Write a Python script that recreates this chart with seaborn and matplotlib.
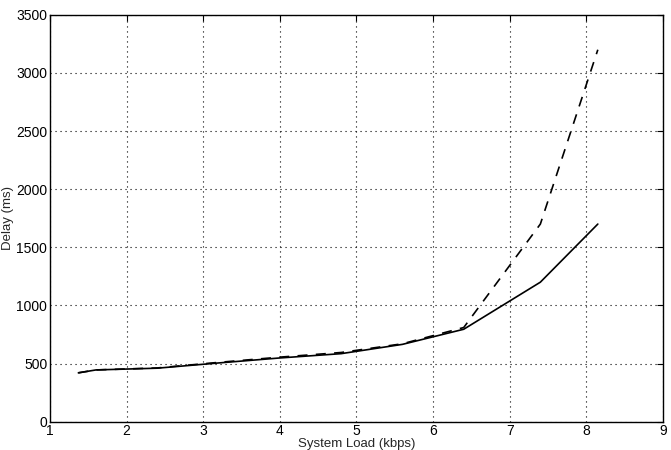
import pandas as pd
import matplotlib
matplotlib.use('Agg')
import matplotlib.pyplot as plt
import seaborn as sns

# 데이터
load = [1.37, 1.6, 2.4, 3.2, 4.0, 4.8, 5.6, 6.4, 7.4, 8.15]
delay_solid = [420, 445, 460, 505, 548, 585, 665, 795, 1200, 1700]
delay_dashed = [420, 445, 462, 510, 555, 595, 670, 810, 1700, 3200]

sns.set_style('white')
plt.rcParams['font.family'] = ['Liberation Sans', 'DejaVu Sans']

fig = plt.figure(figsize=(6.71, 4.5), dpi=100)
ax = fig.add_axes([0.0745, 0.063, 0.9135, 0.904])

sns.lineplot(x=load, y=delay_dashed, ax=ax, color='black', lw=1.2, linestyle=(0, (6, 5)))
sns.lineplot(x=load, y=delay_solid, ax=ax, color='black', lw=1.2)

ax.set_xlim(1, 9)
ax.set_ylim(0, 3500)
ax.set_xticks(range(1, 10))
ax.set_yticks(range(0, 3501, 500))
ax.grid(True, color='black', linestyle=(0, (1, 3.5)), linewidth=0.8)
ax.tick_params(direction='in', top=True, right=True, length=4, labelsize=10, colors='black', pad=2)
for s in ax.spines.values():
    s.set_color('black')
    s.set_linewidth(1.0)

ax.set_xlabel('System Load (kbps)', fontsize=9.5)
ax.set_ylabel('Delay (ms)', fontsize=9.5)
# 라벨 위치 (그림 가장자리에 붙도록)
ax.xaxis.set_label_coords(0.5, -0.039)
ax.yaxis.set_label_coords(-0.058, 0.5)

fig.savefig('out.png', dpi=100)
